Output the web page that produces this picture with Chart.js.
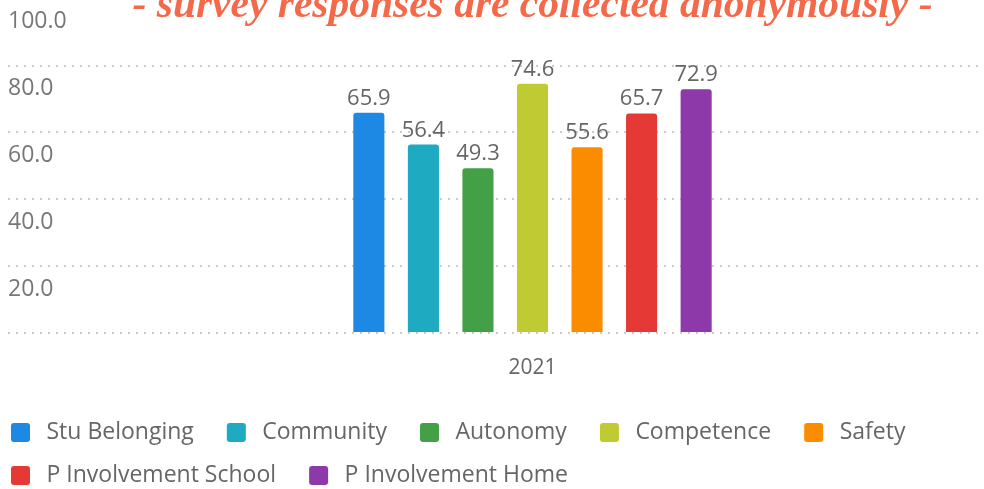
<!DOCTYPE html>
<html>
<head>
<meta charset="utf-8">
<script src="https://cdn.jsdelivr.net/npm/chart.js@4/dist/chart.umd.min.js"></script>
<style>
  html, body { margin: 0; padding: 0; background: #fff; overflow: hidden; }
  #frame { position: relative; width: 984px; height: 489px; overflow: hidden; }
  /* the reference is a crop of a larger chart, so the canvas sits a bit up and left */
  #surveyChart { position: absolute; left: -30px; top: -40px; }
</style>
</head>
<body>
<div id="frame">
  <canvas id="surveyChart" width="1090" height="537"></canvas>
</div>
<script>
"use strict";

var categories = ['2021'];
var seriesNames = ['Stu Belonging', 'Community', 'Autonomy', 'Competence', 'Safety', 'P Involvement School', 'P Involvement Home'];
var seriesValues = [65.9, 56.4, 49.3, 74.6, 55.6, 65.7, 72.9];
var seriesColors = ['#1e88e5', '#1eaac1', '#43a047', '#c0ca33', '#fb8c00', '#e53935', '#8e39a9'];
var yTickValues = [0, 20, 40, 60, 80, 100];

Chart.defaults.font.family = '"Open Sans"';

/* legend swatch: rounded square with some room around it */
function makeSwatch(color) {
    var c = document.createElement('canvas');
    c.width = 37;
    c.height = 19;
    var g = c.getContext('2d');
    g.fillStyle = color;
    g.beginPath();
    g.roundRect(13, 0, 19, 19, 3);
    g.fill();
    return c;
}
var swatches = seriesColors.map(makeSwatch);

/* value labels over the bars */
var barValueLabels = {
    id: 'barValueLabels',
    afterDatasetsDraw: function (chart) {
        var ctx = chart.ctx;
        ctx.save();
        ctx.font = '22px "Open Sans"';
        ctx.fillStyle = '#666';
        ctx.textAlign = 'center';
        ctx.textBaseline = 'alphabetic';
        chart.data.datasets.forEach(function (ds, i) {
            chart.getDatasetMeta(i).data.forEach(function (bar, j) {
                ctx.fillText(ds.data[j].toFixed(1), bar.x, bar.y - 8);
            });
        });
        ctx.restore();
    }
};

var datasets = seriesNames.map(function (name, i) {
    return {
        label: name,
        data: [seriesValues[i]],
        backgroundColor: seriesColors[i],
        borderRadius: 3,
        borderSkipped: 'start',
        categoryPercentage: 0.364,
        barPercentage: 0.57
    };
});

var surveyChart = new Chart(document.getElementById('surveyChart'), {
    type: 'bar',
    data: {
        labels: categories,
        datasets: datasets
    },
    plugins: [barValueLabels],
    options: {
        responsive: false,
        animation: false,
        layout: {
            padding: { left: 8, right: 3, top: 0, bottom: 0 }
        },
        plugins: {
            title: {
                display: true,
                text: '- survey responses are collected anonymously -',
                fullSize: false,
                color: '#f4694a',
                font: { family: '"Liberation Serif"', style: 'italic', weight: 'bold', size: 41.5 },
                padding: { top: 21, bottom: -32 }
            },
            legend: {
                position: 'bottom',
                align: 'start',
                labels: {
                    usePointStyle: true,
                    pointStyleWidth: 37,
                    padding: 20,
                    color: '#666',
                    font: { size: 23 },
                    generateLabels: function (chart) {
                        var items = Chart.defaults.plugins.legend.labels.generateLabels(chart);
                        items.forEach(function (item, i) {
                            item.pointStyle = swatches[i];
                        });
                        return items;
                    }
                }
            },
            tooltip: { enabled: false }
        },
        scales: {
            x: {
                grid: { display: false },
                border: { display: false },
                ticks: {
                    color: '#666',
                    font: { size: 21 },
                    padding: 14
                },
                afterFit: function (scale) {
                    scale.height = 68;
                }
            },
            y: {
                min: yTickValues[0],
                max: yTickValues[yTickValues.length - 1],
                afterBuildTicks: function (scale) {
                    scale.ticks = yTickValues.map(function (v) { return { value: v }; });
                },
                grid: {
                    color: '#cbcbcb',
                    lineWidth: 2,
                    drawTicks: false
                },
                border: { display: false, dash: [2, 6] },
                ticks: {
                    mirror: true,
                    padding: 0,
                    labelOffset: 23,
                    color: '#777',
                    font: { size: 23 },
                    callback: function (value) {
                        return value === 0 ? '' : Number(value).toFixed(1);
                    }
                },
                afterFit: function (scale) {
                    scale.width = 30;
                }
            }
        }
    }
});
</script>
</body>
</html>
